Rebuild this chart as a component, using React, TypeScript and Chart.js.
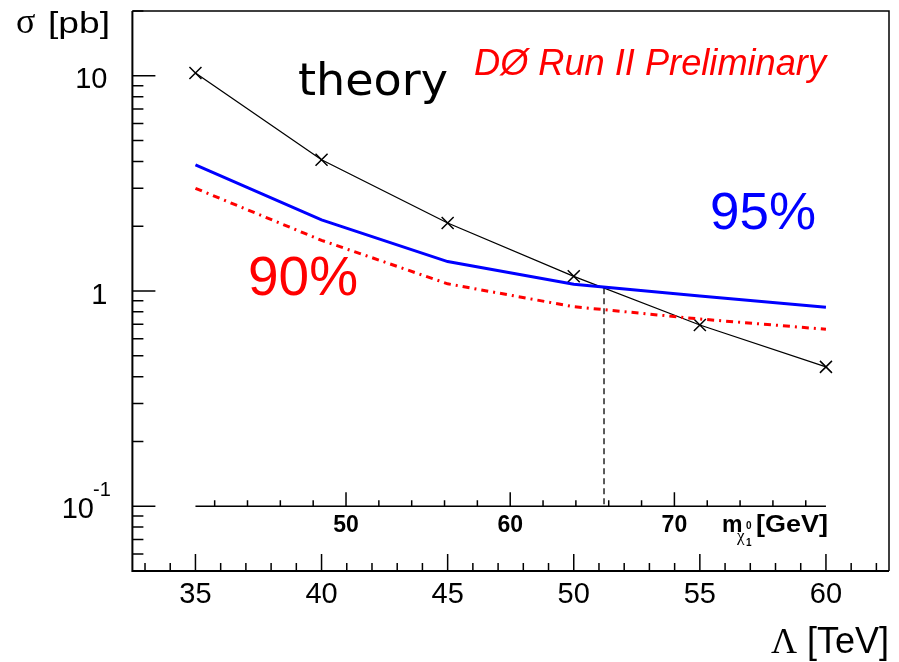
import { useEffect, useRef } from "react";
import { Chart, registerables } from "chart.js";

Chart.register(...registerables);

// ---- data ----
const LAMBDA_TEV = [35, 40, 45, 50, 55, 60];
const SIGMA_THEORY = [10.3, 4.07, 2.07, 1.17, 0.695, 0.444];
const LIMIT_95 = [3.86, 2.14, 1.37, 1.075, 0.948, 0.84];
const LIMIT_90 = [3.0, 1.72, 1.08, 0.845, 0.741, 0.664];
const CROSSING_TEV = 51.2;
const CROSSING_SIGMA = [1.03, 0.1];

const X_RANGE = [32.5, 62.5];
const Y_RANGE = [0.05, 20];
const X_MAJOR = [35, 40, 45, 50, 55, 60];
const X_TICK_LABELS = ["35", "40", "45", "50", "55", "60"];
const Y_MAJOR = [10, 1, 0.1];
const Y_TICK_LABELS = [["10", ""], ["1", ""], ["10", "-1"]];

// neutralino mass axis (GeV), linear in Lambda
const GEV_TEV_ANCHORS = [35, 60];
const GEV_AT_ANCHORS = [40.83, 79.23];
const GEV_MAJOR = [50, 60, 70];
const GEV_TICK_LABELS = ["50", "60", "70"];
const GEV_MINOR_STEP = 2;

const SANS = "'Liberation Sans', Arial, sans-serif";
const SERIF = "'Liberation Serif', 'Times New Roman', serif";

function gevOf(t: number) {
  const [t0, t1] = GEV_TEV_ANCHORS;
  const [g0, g1] = GEV_AT_ANCHORS;
  return g0 + ((t - t0) * (g1 - g0)) / (t1 - t0);
}

function drawText(
  ctx: CanvasRenderingContext2D,
  text: string,
  x: number,
  y: number,
  font: string,
  color: string,
  align: "left" | "right" | "center" = "left",
  width?: number
) {
  ctx.save();
  ctx.font = font;
  ctx.fillStyle = color;
  ctx.textBaseline = "alphabetic";
  ctx.textAlign = "left";
  const w = ctx.measureText(text).width;
  const target = width ?? w;
  const sx = target / w;
  let left = x;
  if (align === "right") left = x - target;
  if (align === "center") left = x - target / 2;
  ctx.translate(left, y);
  ctx.scale(sx, 1);
  ctx.fillText(text, 0, 0);
  ctx.restore();
}

const framePlugin = {
  id: "rootFrame",
  afterDraw(chart: any) {
    const ctx: CanvasRenderingContext2D = chart.ctx;
    const ca = chart.chartArea;
    const xs = chart.scales.x;
    const ys = chart.scales.y;
    const gs = chart.scales.x2;
    ctx.save();
    ctx.strokeStyle = "#000";
    ctx.lineCap = "butt";

    // frame
    ctx.lineWidth = 1.5;
    ctx.beginPath();
    ctx.moveTo(ca.left, ca.top);
    ctx.lineTo(ca.right, ca.top);
    ctx.lineTo(ca.right, ca.bottom);
    ctx.stroke();
    ctx.lineWidth = 2;
    ctx.beginPath();
    ctx.moveTo(ca.left, ca.top);
    ctx.lineTo(ca.left, ca.bottom);
    ctx.lineTo(ca.right, ca.bottom);
    ctx.stroke();

    // x ticks
    ctx.lineWidth = 1.5;
    ctx.beginPath();
    for (let v = Math.ceil(X_RANGE[0]); v <= X_RANGE[1]; v++) {
      const px = xs.getPixelForValue(v);
      const len = X_MAJOR.includes(v) ? 17 : 8;
      ctx.moveTo(px, ca.bottom);
      ctx.lineTo(px, ca.bottom - len);
    }
    ctx.stroke();

    // y ticks (log)
    ctx.beginPath();
    for (let e = -2; e <= 1; e++) {
      for (let m = 1; m <= 9; m++) {
        const v = m * Math.pow(10, e);
        if (v < Y_RANGE[0] || v > Y_RANGE[1]) continue;
        const py = ys.getPixelForValue(v);
        const len = m === 1 ? 23 : 11;
        ctx.moveTo(ca.left, py);
        ctx.lineTo(ca.left + len, py);
      }
    }
    ctx.stroke();

    // x tick labels
    X_MAJOR.forEach((v, i) => {
      drawText(ctx, X_TICK_LABELS[i], xs.getPixelForValue(v), ca.bottom + 32, `29px ${SANS}`, "#000", "center");
    });
    // y tick labels
    Y_MAJOR.forEach((v, i) => {
      const py = ys.getPixelForValue(v);
      const [base, exp] = Y_TICK_LABELS[i];
      if (exp) {
        drawText(ctx, base, 94, py + 12, `29px ${SANS}`, "#000", "right");
        drawText(ctx, exp, 93, py - 10, `20px ${SANS}`, "#000", "left");
      } else {
        drawText(ctx, base, 107.5, py + 12.5, `29px ${SANS}`, "#000", "right");
      }
    });

    // secondary (neutralino mass) axis at sigma = 0.1
    const ay = ys.getPixelForValue(0.1);
    const g0 = gevOf(LAMBDA_TEV[0]);
    const g1 = gevOf(LAMBDA_TEV[LAMBDA_TEV.length - 1]);
    ctx.lineWidth = 1.5;
    ctx.beginPath();
    ctx.moveTo(gs.getPixelForValue(g0), ay);
    ctx.lineTo(gs.getPixelForValue(g1), ay);
    for (let g = Math.ceil(g0 / GEV_MINOR_STEP) * GEV_MINOR_STEP; g <= g1; g += GEV_MINOR_STEP) {
      const px = gs.getPixelForValue(g);
      const len = GEV_MAJOR.includes(g) ? 14 : 6;
      ctx.moveTo(px, ay);
      ctx.lineTo(px, ay - len);
    }
    ctx.stroke();
    GEV_MAJOR.forEach((g, i) => {
      drawText(ctx, GEV_TICK_LABELS[i], gs.getPixelForValue(g), ay + 25.5, `bold 23px ${SANS}`, "#000", "center");
    });
    drawText(ctx, "m", 722, ay + 25.5, `bold 23px ${SANS}`, "#000");
    drawText(ctx, "χ", 737, ay + 35, `17px ${SERIF}`, "#000");
    drawText(ctx, "0", 746, ay + 23, `bold 10px ${SANS}`, "#000");
    drawText(ctx, "1", 746, ay + 40, `bold 10px ${SANS}`, "#000");
    drawText(ctx, "[GeV]", 828, ay + 25.5, `bold 23px ${SANS}`, "#000", "right", 72);

    // axis titles
    drawText(ctx, "σ", 16, 33, `36px ${SERIF}`, "#000");
    drawText(ctx, "[pb]", 48, 33, `29px ${SANS}`, "#000", "left", 62);
    drawText(ctx, "Λ", 771, 653, `36px ${SERIF}`, "#000");
    drawText(ctx, "[TeV]", 889, 653, `36px ${SANS}`, "#000", "right");

    // annotations
    drawText(ctx, "theory", 298, 95, `44px 'DejaVu Sans', sans-serif`, "#000", "left", 150);
    drawText(ctx, "DØ Run II Preliminary", 474, 75, `italic 36px ${SANS}`, "#ff0000", "left", 352);
    drawText(ctx, "95%", 710, 229, `52px ${SANS}`, "#0000ff", "left", 106);
    drawText(ctx, "90%", 248, 295, `55px ${SANS}`, "#ff0000", "left", 110);

    ctx.restore();
  },
};

export default function App() {
  const ref = useRef<HTMLCanvasElement | null>(null);
  useEffect(() => {
    if (!ref.current) return;
    const pts = (ys: number[]) => LAMBDA_TEV.map((x, i) => ({ x, y: ys[i] }));
    const chart = new Chart(ref.current, {
      type: "line",
      data: {
        datasets: [
          {
            label: "90%",
            data: pts(LIMIT_90),
            borderColor: "#ff0000",
            borderWidth: 3,
            borderDash: [7, 5, 2, 5],
            pointRadius: 0,
            tension: 0,
            fill: false,
          },
          {
            label: "95%",
            data: pts(LIMIT_95),
            borderColor: "#0000ff",
            borderWidth: 3,
            pointRadius: 0,
            tension: 0,
            fill: false,
          },
          {
            label: "theory",
            data: pts(SIGMA_THEORY),
            borderColor: "#000",
            borderWidth: 1.3,
            pointStyle: "crossRot",
            pointRadius: 8.5,
            pointBorderWidth: 1.5,
            pointBorderColor: "#000",
            tension: 0,
            fill: false,
          },
          {
            label: "crossing",
            data: CROSSING_SIGMA.map((y) => ({ x: CROSSING_TEV, y })),
            borderColor: "#000",
            borderWidth: 1.3,
            borderDash: [6, 4],
            pointRadius: 0,
            fill: false,
          },
        ],
      },
      options: {
        responsive: false,
        animation: false,
        devicePixelRatio: 1,
        layout: { padding: { left: 132.4, right: 6.4, top: 11, bottom: 91 } },
        plugins: { legend: { display: false }, tooltip: { enabled: false } },
        scales: {
          x: { type: "linear", min: X_RANGE[0], max: X_RANGE[1], display: false },
          x2: {
            type: "linear",
            axis: "x",
            min: gevOf(X_RANGE[0]),
            max: gevOf(X_RANGE[1]),
            display: false,
          },
          y: { type: "logarithmic", min: Y_RANGE[0], max: Y_RANGE[1], display: false },
        },
      },
      plugins: [framePlugin],
    });
    return () => chart.destroy();
  }, []);
  return (
    <div style={{ position: "absolute", left: 0, top: 0, width: 899, height: 662, background: "#fff" }}>
      <canvas ref={ref} width={899} height={662} style={{ display: "block" }} />
    </div>
  );
}
